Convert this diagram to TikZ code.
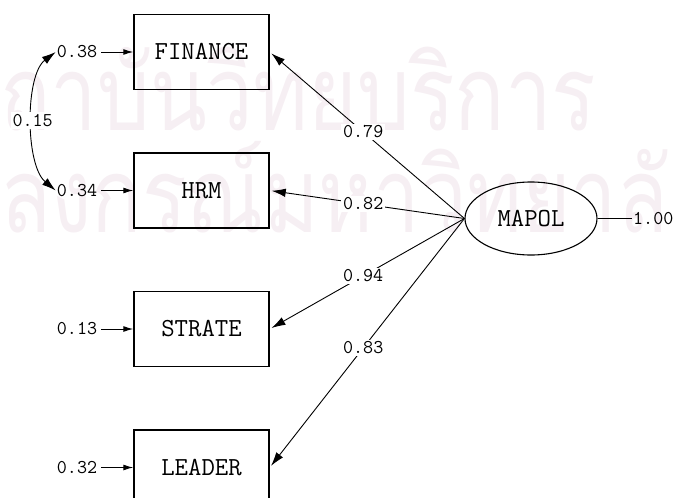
\documentclass[tikz,border=0pt]{standalone}
\usepackage{fontspec}
\usetikzlibrary{arrows.meta,shapes.geometric}
\newfontfamily\thaifont[Script=Thai]{Loma}
\definecolor{stampink}{RGB}{246,239,243}

\begin{document}
\begin{tikzpicture}[x=1pt,y=-1pt,
  obs/.style={draw,line width=1.5pt,minimum width=135pt,minimum height=75pt,
    inner sep=0pt,font=\ttfamily\fontsize{26}{28}\selectfont},
  lat/.style={draw,ellipse,line width=1.1pt,minimum width=132pt,minimum height=73pt,
    inner sep=0pt,font=\ttfamily\fontsize{26}{28}\selectfont},
  num/.style={font=\ttfamily\fontsize{19.5}{20}\selectfont,inner sep=1pt},
  lbl/.style={num,fill=white,inner sep=2pt},
  load/.style={line width=0.9pt,shorten >=2pt,-{Latex[length=14pt,width=8.5pt]}},
  err/.style={line width=1pt,shorten <=3pt,-{Latex[length=10pt,width=6pt]}},
  covar/.style={line width=0.9pt,{Latex[length=14pt,width=8.5pt]}-{Latex[length=14pt,width=8.5pt]}},
  stamp/.style={text=stampink,inner sep=0pt,xscale=0.8,
    font=\thaifont\fontsize{104}{104}\selectfont}]
\useasboundingbox (0,0) rectangle (675,498);

% faint institutional stamp behind the model
\node[stamp,anchor=base west] (wm1) at (0,130) {\llap{ส}ถาบันวิทยบริการ};
\node[stamp,anchor=base west] (wm2) at (0,232) {\llap{จุฬา}ลงกรณ์มหาวิทยาลัย};

% observed indicators
\node[obs] (fin) at (201.5,52) {FINANCE};
\node[obs] (hrm) at (201.5,190.5) {HRM};
\node[obs] (str) at (201.5,329) {STRATE};
\node[obs] (lea) at (201.5,467.5) {LEADER};

% latent factor
\node[lat] (mapol) at (531,218.5) {MAPOL};

% error variances
\node[num] (e1) at (77,52) {0.38};
\node[num] (e2) at (77,190.5) {0.34};
\node[num] (e3) at (77,329) {0.13};
\node[num] (e4) at (77,467.5) {0.32};
\draw[err] (e1) -- (fin.west);
\draw[err] (e2) -- (hrm.west);
\draw[err] (e3) -- (str.west);
\draw[err] (e4) -- (lea.west);

% error covariance
\draw[covar] (e1.west) .. controls (25,75) and (25,165) .. node[lbl] {0.15} (e2.west);

% factor loadings
\draw[load] (mapol.west) -- node[lbl,pos=0.52] {0.79} (fin.east);
\draw[load] (mapol.west) -- node[lbl,pos=0.52] {0.82} (hrm.east);
\draw[load] (mapol.west) -- node[lbl,pos=0.52] {0.94} (str.east);
\draw[load] (mapol.west) -- node[lbl,pos=0.52] {0.83} (lea.east);

% factor variance
\node[num,anchor=west] (v) at (632,218.5) {1.00};
\draw[line width=0.9pt] (mapol.east) -- (v.west);
\end{tikzpicture}
\end{document}
